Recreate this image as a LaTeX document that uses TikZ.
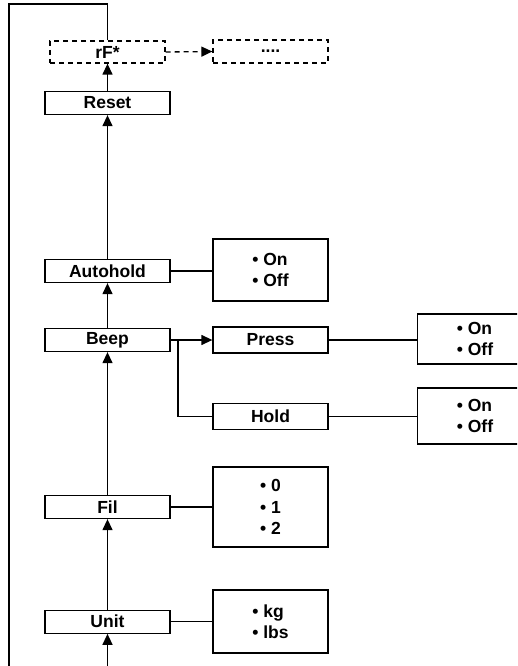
\documentclass[tikz,border=0pt]{standalone}
\usepackage{fontspec}
\setmainfont{Liberation Sans}
\usetikzlibrary{arrows.meta}
\tikzset{
  lbl/.style={font=\fontsize{17.5}{21.5}\selectfont\bfseries},
  box/.style={draw, line width=1.3pt, minimum width=125pt, minimum height=23pt, inner sep=0pt, lbl},
  obox/.style={draw, line width=1.3pt, minimum width=115pt, inner sep=0pt, align=left, lbl},
  dbox/.style={obox, dash pattern=on 5pt off 4pt},
  conn/.style={line width=1.3pt},
  arr/.style={conn, -{Triangle[length=11pt,width=10pt]}},
}
\begin{document}
\begin{tikzpicture}[x=1pt,y=-1pt]
\clip (0,0) rectangle (517,666);
% main column
\node[dbox, minimum height=22pt] (rf) at (107.5,52) {rF*};
\node[dbox, minimum height=23pt] (dots) at (270.5,51.5) {....};
\node[box] (reset) at (107.5,103) {Reset};
\node[box] (auto) at (107.5,271) {Autohold};
\node[box] (beep) at (107.5,340) {Beep};
\node[box] (fil) at (107.5,507) {Fil};
\node[box] (unit) at (107.5,621.7) {Unit};
% right column
\node[obox, minimum height=62pt] (autoopt) at (270.5,270) {• On\\• Off};
\node[obox, minimum height=26pt] (press) at (270.5,340) {Press};
\node[obox, minimum height=26pt] (hold) at (270.5,416.3) {Hold};
\node[obox, minimum height=80pt] (filopt) at (270.5,507) {• 0\\• 1\\• 2};
\node[obox, minimum height=63pt] (unitopt) at (270.5,621.5) {• kg\\• lbs};
\node[obox, minimum height=50pt] (pressopt) at (475,339) {• On\\• Off};
\node[obox, minimum height=56pt] (holdopt) at (475,416) {• On\\• Off};
% loop
\coordinate (tm) at (107.5,4);
\coordinate (tl) at (9,4);
\coordinate (bl) at (9,672);
\coordinate (bm) at (107.5,672);
\draw[conn] (rf.north) -- (tm) -- (tl) -- (bl);
% arrows in main column
\draw[arr] (bm) -- (unit.south);
\draw[arr] (unit.north) -- (fil.south);
\draw[arr] (fil.north) -- (beep.south);
\draw[arr] (beep.north) -- (auto.south);
\draw[arr] (auto.north) -- (reset.south);
\draw[arr] (reset.north) -- (rf.south);
\draw[arr, dash pattern=on 5pt off 4pt] (rf.east) -- (dots.west);
% option links
\draw[conn] (auto.east) -- (auto.east -| autoopt.west);
\draw[conn] (fil.east) -- (fil.east -| filopt.west);
\draw[conn] (unit.east) -- (unit.east -| unitopt.west);
\draw[arr] (beep.east) -- (press.west);
\coordinate (br) at (178,340);
\draw[conn] (br) |- (hold.west);
\draw[conn] (press.east) -- (press.east -| pressopt.west);
\draw[conn] (hold.east) -- (hold.east -| holdopt.west);
\end{tikzpicture}
\end{document}
